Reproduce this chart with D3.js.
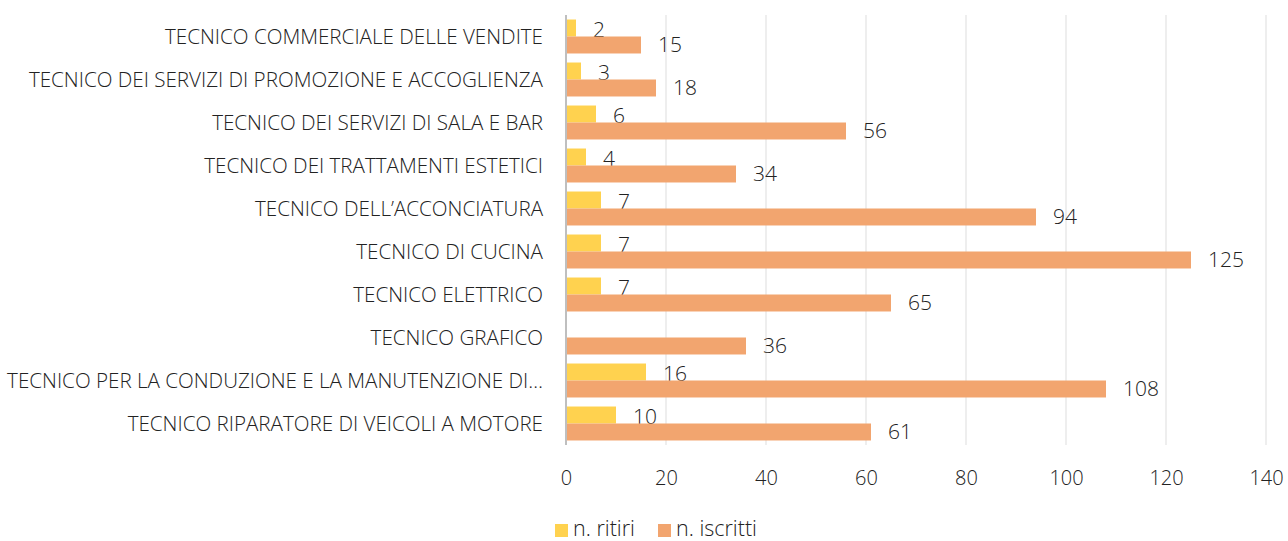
<style>body { margin: 0; }</style>
<svg id="chart" width="1288" height="541"></svg>

<script src="https://d3js.org/d3.v7.min.js"></script>
<script>
  // Corsi e numeri: iscritti e ritiri per indirizzo
  const categories = [
    'TECNICO COMMERCIALE DELLE VENDITE',
    'TECNICO DEI SERVIZI DI PROMOZIONE E ACCOGLIENZA',
    'TECNICO DEI SERVIZI DI SALA E BAR',
    'TECNICO DEI TRATTAMENTI ESTETICI',
    'TECNICO DELL\u2019ACCONCIATURA',
    'TECNICO DI CUCINA',
    'TECNICO ELETTRICO',
    'TECNICO GRAFICO',
    'TECNICO PER LA CONDUZIONE E LA MANUTENZIONE DI\u2026',
    'TECNICO RIPARATORE DI VEICOLI A MOTORE'
  ]
  const ritiri = [2, 3, 6, 4, 7, 7, 7, null, 16, 10]
  const iscritti = [15, 18, 56, 34, 94, 125, 65, 36, 108, 61]
  const xTicks = [0, 20, 40, 60, 80, 100, 120, 140]
  const seriesNames = ['n. ritiri', 'n. iscritti']
  const colors = ['#FFD24F', '#F2A56F']

  const font = '"Open Sans", "Noto Sans", sans-serif'
  const svg = d3.select('#chart')
  const plotLeft = 566, plotRight = 1266, plotTop = 15, plotBottom = 445

  const x = d3.scaleLinear().domain([0, 140]).range([plotLeft, plotRight])
  const y = d3.scaleBand().domain(categories).range([plotTop, plotBottom]).paddingInner(0.21).paddingOuter(0.105)
  const inner = d3.scaleBand().domain([0, 1]).range([0, y.bandwidth()])

  // gridlines
  svg.append('g')
    .selectAll('line')
    .data(xTicks.slice(1))
    .enter()
    .append('line')
    .attr('x1', d => x(d)).attr('x2', d => x(d))
    .attr('y1', plotTop).attr('y2', plotBottom)
    .attr('stroke', '#e8e8e8').attr('stroke-width', 1.5)

  const series = [ritiri, iscritti]
  series.forEach((vals, s) => {
    const rows = categories.map((c, i) => ({ c, v: vals[i] })).filter(d => d.v !== null)
    const g = svg.append('g')
    g.selectAll('rect')
      .data(rows)
      .enter()
      .append('rect')
      .attr('x', x(0))
      .attr('y', d => y(d.c) + inner(s))
      .attr('width', d => x(d.v) - x(0))
      .attr('height', inner.bandwidth())
      .attr('fill', colors[s])
    g.selectAll('text')
      .data(rows)
      .enter()
      .append('text')
      .attr('x', d => x(d.v) + 17)
      .attr('y', d => y(d.c) + inner(s) + inner.bandwidth() / 2 + (s === 0 ? 3.5 : 1.5))
      .attr('dominant-baseline', 'middle')
      .attr('font-family', font).attr('font-weight', 300)
      .attr('font-size', 21).attr('fill', '#222')
      .text(d => d.v)
  })

  // y axis line + category labels
  svg.append('line')
    .attr('x1', plotLeft).attr('x2', plotLeft)
    .attr('y1', plotTop).attr('y2', plotBottom)
    .attr('stroke', '#bfbfbf').attr('stroke-width', 2)

  svg.append('g')
    .selectAll('text')
    .data(categories)
    .enter()
    .append('text')
    .attr('x', 543)
    .attr('y', d => y(d) + y.bandwidth() / 2 + 1.5)
    .attr('text-anchor', 'end')
    .attr('dominant-baseline', 'middle')
    .attr('font-family', font).attr('font-weight', 300)
    .attr('font-size', 20.6).attr('fill', '#222')
    .text(d => d)

  // x axis tick labels
  const xAxis = d3.axisBottom(x).tickValues(xTicks).tickSize(0)
  const ax = svg.append('g').attr('transform', `translate(0,${plotBottom})`).call(xAxis)
  ax.select('.domain').remove()
  ax.selectAll('text')
    .attr('y', 33).attr('dy', '0.35em')
    .attr('font-family', font).attr('font-weight', 300)
    .attr('font-size', 20).attr('fill', '#222')

  // legend
  const legendX = [555, 658]
  const lg = svg.append('g')
  seriesNames.forEach((n, i) => {
    lg.append('rect').attr('x', legendX[i]).attr('y', 524).attr('width', 13).attr('height', 13).attr('fill', colors[i])
    lg.append('text').attr('x', legendX[i] + 18).attr('y', 530)
      .attr('dominant-baseline', 'middle')
      .attr('font-family', font).attr('font-weight', 300)
      .attr('font-size', 21.5).attr('fill', '#222')
      .text(n)
  })
</script>
